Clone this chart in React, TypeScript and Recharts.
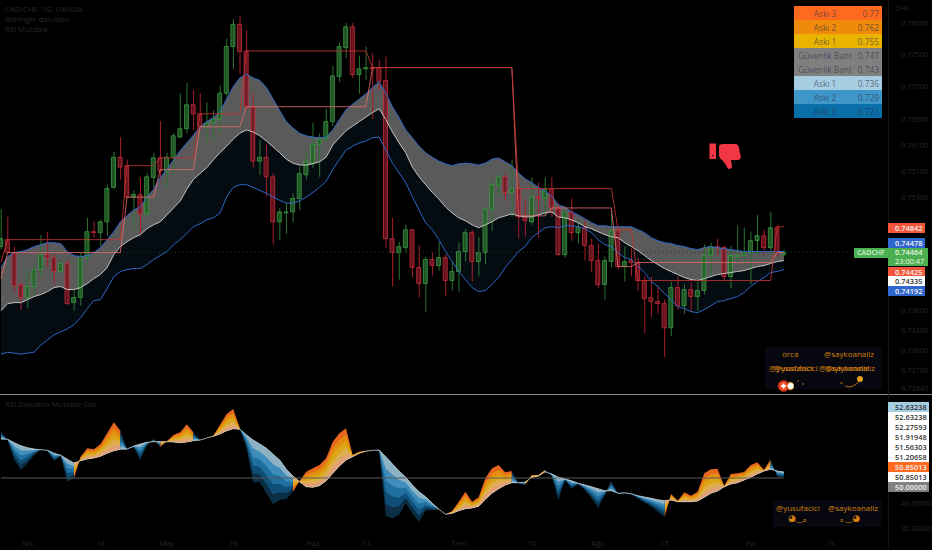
import React from "react";
import { ComposedChart, Bar, Area, Line, XAxis, YAxis, Cell, ReferenceLine } from "recharts";

const opens = [0.7455,0.74655,0.7446,0.7398,0.73785,0.7395,0.74205,0.7443,0.74385,0.74175,0.74295,0.7371,0.73785,0.74385,0.74775,0.7476,0.74925,0.7545,0.7591,0.7578,0.753,0.7534,0.75045,0.756,0.759,0.7569,0.7591,0.7622,0.7635,0.7672,0.7658,0.7638,0.7644,0.765,0.769,0.7763,0.7798,0.7756,0.7669,0.7585,0.7591,0.7561,0.74925,0.7506,0.75075,0.7528,0.7564,0.7582,0.761,0.7619,0.7646,0.7716,0.7761,0.7794,0.7719,0.7728,0.773,0.773,0.771,0.7467,0.7446,0.74535,0.74805,0.74235,0.73995,0.74355,0.74265,0.74385,0.7404,0.74175,0.74475,0.7476,0.74325,0.7446,0.75105,0.7548,0.7561,0.7537,0.7543,0.75,0.74925,0.753,0.7528,0.7542,0.75135,0.7443,0.75075,0.7476,0.74835,0.74565,0.7434,0.7398,0.74325,0.7479,0.7425,0.7434,0.7431,0.7404,0.73785,0.73725,0.73695,0.73335,0.73935,0.73665,0.73905,0.738,0.7389,0.74415,0.7455,0.74535,0.741,0.744,0.74415,0.7446,0.7464,0.74715,0.74535,0.74835,0.7443];
const closes = [0.7467,0.7446,0.73965,0.73785,0.7395,0.74205,0.7443,0.74385,0.74175,0.74295,0.73695,0.73785,0.744,0.74775,0.7476,0.74925,0.7543,0.7591,0.7576,0.753,0.7534,0.75045,0.7561,0.759,0.757,0.7591,0.7624,0.7635,0.7672,0.7658,0.7638,0.7644,0.765,0.769,0.7763,0.7798,0.7755,0.7669,0.7585,0.7591,0.7561,0.74925,0.75075,0.75075,0.7528,0.7566,0.7585,0.7611,0.7619,0.7646,0.7717,0.7763,0.7794,0.7719,0.7728,0.773,0.7728,0.7708,0.7467,0.7446,0.7455,0.74805,0.74235,0.73995,0.74355,0.74265,0.74385,0.7404,0.74175,0.74475,0.7476,0.74325,0.7446,0.7512,0.7549,0.7561,0.7537,0.7543,0.75,0.7494,0.753,0.7528,0.7542,0.75135,0.7443,0.75075,0.7476,0.74835,0.74565,0.7434,0.7398,0.7434,0.7479,0.7425,0.74325,0.7431,0.7404,0.7377,0.73725,0.73695,0.73335,0.73935,0.73665,0.73905,0.738,0.7389,0.74415,0.7455,0.74535,0.741,0.74415,0.74415,0.7446,0.7464,0.74715,0.74535,0.74835,0.7446,0.74464];
const highs = [0.7512,0.75,0.7455,0.7401,0.7419,0.7428,0.7473,0.74775,0.7443,0.74355,0.7434,0.73905,0.7446,0.74985,0.74925,0.74955,0.7549,0.7599,0.7622,0.7587,0.754,0.756,0.7567,0.7598,0.7647,0.7598,0.7628,0.769,0.7706,0.7695,0.769,0.7676,0.7663,0.7702,0.7775,0.7806,0.7812,0.7789,0.769,0.7618,0.7611,0.7567,0.75135,0.7521,0.7536,0.7576,0.7599,0.7644,0.7628,0.7666,0.7733,0.7769,0.78,0.78,0.7749,0.7763,0.7753,0.7742,0.7747,0.74985,0.74625,0.7488,0.74805,0.74565,0.744,0.7446,0.74625,0.7443,0.74325,0.7461,0.7482,0.74805,0.747,0.75135,0.7555,0.7567,0.7566,0.7587,0.7552,0.7527,0.756,0.7552,0.756,0.756,0.7521,0.75105,0.7528,0.74955,0.74955,0.7467,0.74595,0.744,0.75105,0.7485,0.7455,0.7452,0.74385,0.741,0.741,0.7395,0.73755,0.74025,0.741,0.7398,0.7401,0.74025,0.7458,0.7461,0.7467,0.74565,0.74565,0.74865,0.74835,0.74775,0.7503,0.74805,0.75075,0.7488,0.74505];
const lows = [0.74505,0.7446,0.7386,0.73605,0.73635,0.7383,0.741,0.7425,0.7398,0.7413,0.7368,0.7359,0.73665,0.7428,0.74685,0.7455,0.74715,0.7542,0.7557,0.753,0.74805,0.7473,0.74985,0.7545,0.7557,0.7545,0.7564,0.7621,0.7628,0.7633,0.7633,0.7613,0.7616,0.7628,0.7684,0.7728,0.772,0.7664,0.7575,0.7564,0.7531,0.7458,0.74655,0.74745,0.74925,0.75105,0.7557,0.7575,0.7561,0.7615,0.7639,0.7708,0.7745,0.7714,0.7689,0.771,0.765,0.7695,0.74535,0.7395,0.74055,0.7446,0.74085,0.73785,0.73575,0.74115,0.7419,0.738,0.7389,0.73875,0.74325,0.74025,0.741,0.7428,0.7479,0.753,0.7525,0.75,0.7467,0.747,0.7488,0.74685,0.75015,0.75,0.74415,0.74385,0.7464,0.74595,0.7434,0.7416,0.7392,0.73755,0.74235,0.74205,0.74025,0.741,0.7389,0.7326,0.735,0.73545,0.72905,0.73215,0.73605,0.73545,0.73575,0.7359,0.7383,0.74085,0.74415,0.7404,0.7392,0.74295,0.7431,0.7398,0.7443,0.7443,0.7446,0.744,0.744];

const bandUpper = [0.74235,0.744,0.7446,0.74475,0.74505,0.7455,0.7458,0.7461,0.7461,0.74595,0.74475,0.74415,0.744,0.74415,0.7446,0.74535,0.74655,0.74775,0.74925,0.75015,0.75105,0.7515,0.753,0.7542,0.756,0.7572,0.7587,0.7601,0.7613,0.7625,0.7638,0.7646,0.7652,0.7661,0.7681,0.77,0.7714,0.772,0.7714,0.771,0.7699,0.7681,0.7663,0.7646,0.7636,0.7628,0.7624,0.7622,0.7621,0.7622,0.7633,0.7649,0.7664,0.7673,0.7681,0.7689,0.7699,0.7708,0.769,0.7669,0.7652,0.7633,0.7621,0.7608,0.7598,0.7591,0.7585,0.7581,0.7578,0.7581,0.7582,0.7581,0.7579,0.7582,0.7588,0.759,0.7584,0.7578,0.7567,0.7558,0.7552,0.7545,0.7539,0.7532,0.7518,0.7515,0.75075,0.7503,0.7497,0.7491,0.74865,0.74865,0.7485,0.7485,0.7485,0.7485,0.74805,0.7476,0.74685,0.7464,0.7461,0.74595,0.74565,0.7455,0.7452,0.74505,0.74535,0.7455,0.74535,0.7452,0.74505,0.7449,0.74475,0.74475,0.74475,0.74475,0.74475,0.74475,0.74475];
const bandMiddle = [0.7359,0.73695,0.7371,0.7371,0.73755,0.738,0.7383,0.73875,0.73935,0.7395,0.73905,0.73905,0.73935,0.73995,0.7407,0.7413,0.74235,0.7443,0.7455,0.74625,0.74685,0.7473,0.7482,0.7488,0.74925,0.7503,0.75135,0.7524,0.7542,0.7557,0.7566,0.7575,0.7587,0.7598,0.7608,0.7619,0.7628,0.7633,0.763,0.7624,0.7616,0.7607,0.7598,0.7588,0.7582,0.7579,0.7579,0.7581,0.7584,0.7591,0.761,0.7621,0.7632,0.7639,0.7646,0.7653,0.766,0.7666,0.7649,0.763,0.7613,0.7598,0.7576,0.7561,0.7549,0.7537,0.7527,0.7515,0.7506,0.74985,0.7494,0.7488,0.74835,0.7488,0.74925,0.74985,0.75015,0.75045,0.75015,0.75,0.75,0.7503,0.7506,0.75075,0.75,0.74985,0.74955,0.7491,0.7485,0.7482,0.74775,0.7473,0.747,0.74685,0.7461,0.7455,0.7449,0.74415,0.7434,0.7428,0.7422,0.74175,0.7413,0.74085,0.74055,0.7404,0.7407,0.741,0.7413,0.74145,0.7416,0.74175,0.7419,0.7422,0.7425,0.74265,0.74295,0.74325,0.7434];
const bandLower = [0.72945,0.72975,0.7296,0.72945,0.7296,0.72975,0.7308,0.73155,0.7323,0.73275,0.7332,0.7338,0.73485,0.7362,0.7374,0.73755,0.7392,0.741,0.74175,0.74205,0.7422,0.7422,0.7428,0.74355,0.74415,0.74475,0.7458,0.74655,0.74745,0.7485,0.74895,0.74955,0.74985,0.7506,0.753,0.7545,0.7549,0.7549,0.7545,0.754,0.7536,0.753,0.7525,0.7521,0.7521,0.7524,0.753,0.7537,0.7545,0.7554,0.7572,0.7587,0.7602,0.7608,0.7613,0.7616,0.7621,0.7622,0.7602,0.7582,0.7567,0.7552,0.7531,0.75105,0.7491,0.74805,0.74655,0.74475,0.74325,0.74175,0.74055,0.73935,0.73875,0.7389,0.7398,0.74085,0.74235,0.74355,0.74475,0.7455,0.74685,0.7476,0.74835,0.7485,0.74835,0.74865,0.74865,0.7485,0.7482,0.7476,0.74655,0.7458,0.7455,0.7446,0.74385,0.74355,0.7425,0.7416,0.74025,0.7395,0.73845,0.73755,0.7365,0.7362,0.73575,0.7356,0.73605,0.73665,0.73725,0.7374,0.7377,0.738,0.7386,0.7395,0.74025,0.74085,0.7416,0.74175,0.74205];

const redLevel = [0.7431,0.74655,0.74655,0.74655,0.74655,0.74655,0.74655,0.74655,0.74655,0.74655,0.74655,0.74655,0.74655,0.74655,0.74655,0.74655,0.74655,0.74655,0.74655,0.7578,0.7578,0.7578,0.7578,0.7578,0.759,0.759,0.759,0.759,0.759,0.759,0.7658,0.7658,0.7658,0.7658,0.7658,0.7658,0.7658,0.7756,0.7756,0.7756,0.7756,0.7756,0.7756,0.7756,0.7756,0.7756,0.7756,0.7756,0.7756,0.7756,0.7756,0.7756,0.7756,0.7756,0.7756,0.7756,0.773,0.773,0.773,0.773,0.773,0.773,0.773,0.773,0.773,0.773,0.773,0.773,0.773,0.773,0.773,0.773,0.773,0.773,0.773,0.773,0.773,0.773,0.7543,0.7543,0.7543,0.7543,0.7543,0.7543,0.7543,0.7543,0.7543,0.7543,0.7543,0.7543,0.7543,0.7543,0.7543,0.74805,0.74805,0.74805,0.7404,0.7404,0.7404,0.7404,0.7404,0.7404,0.7404,0.7404,0.7404,0.7404,0.7404,0.7404,0.7404,0.7404,0.7404,0.7404,0.7404,0.7404,0.7404,0.7404,0.7404,0.7485,0.7485];
const pinkLevel = [0.7407,0.7446,0.7446,0.7446,0.7446,0.7446,0.7446,0.7446,0.7446,0.7446,0.7446,0.7446,0.7446,0.7446,0.7446,0.7446,0.7446,0.7446,0.7446,0.753,0.753,0.753,0.753,0.753,0.7572,0.7572,0.7572,0.7572,0.7572,0.7572,0.7638,0.7638,0.7638,0.7638,0.7638,0.7638,0.7638,0.7669,0.7669,0.7669,0.7669,0.7669,0.7669,0.7669,0.7669,0.7669,0.7669,0.7669,0.7669,0.7669,0.7669,0.7669,0.7669,0.7669,0.7669,0.7669,0.773,0.773,0.773,0.773,0.773,0.773,0.773,0.773,0.773,0.773,0.773,0.773,0.773,0.773,0.773,0.773,0.773,0.773,0.773,0.773,0.773,0.773,0.75015,0.75015,0.75015,0.75015,0.75015,0.75135,0.75135,0.75135,0.75135,0.75135,0.75135,0.75135,0.75135,0.75135,0.75135,0.7425,0.7425,0.7425,0.7431,0.7431,0.7431,0.7431,0.7431,0.7431,0.7431,0.7431,0.7431,0.7431,0.7431,0.7431,0.7431,0.7431,0.7431,0.7431,0.7431,0.7431,0.7431,0.7431,0.7431,0.7446,0.7446];

const rsiBase = [65.6,65.5,64.1,62.9,62.1,61.6,61.3,61.1,59.9,59.1,57.5,56.0,56.9,57.6,58.0,58.7,59.9,60.9,61.5,61.6,62.8,63.6,64.3,64.5,64.5,64.5,64.4,64.1,64.4,64.9,65.2,66.0,66.7,67.6,68.9,69.7,69.5,67.2,65.2,63.6,61.9,59.5,57.2,53.5,50.8,48.5,46.5,46.3,46.9,48.9,51.9,54.8,57.2,58.5,59.9,60.7,61.1,61.2,58.5,55.6,52.8,50.3,47.2,44.5,42.5,39.9,37.5,35.5,35.9,36.9,37.7,38.0,38.7,41.5,43.9,45.7,47.2,48.1,48.1,48.4,50.3,50.8,52.5,51.6,50.3,49.6,48.9,47.9,47.2,46.5,45.7,44.9,44.9,43.9,44.1,43.7,42.9,42.4,41.9,41.3,40.9,41.2,40.5,40.5,40.5,40.8,42.3,43.9,44.8,46.5,47.6,48.1,49.2,50.3,51.6,52.8,53.5,52.8,52.4];
const rsiTop = [68.5,65.2,57.2,53.2,55.9,59.2,61.6,60.8,56.8,58.8,48.5,49.9,58.5,61.9,61.5,63.6,67.9,72.3,68.9,61.5,62.3,57.2,63.2,65.5,62.5,64.7,67.2,68.3,71.5,68.3,65.1,65.9,66.9,71.2,75.6,77.6,69.9,61.9,48.3,48.3,43.9,39.5,41.2,41.5,44.5,48.8,52.5,53.9,55.2,57.9,64.5,67.9,69.9,59.2,60.5,60.8,61.2,60.9,34.8,33.9,35.2,39.9,35.9,32.5,36.9,37.2,37.6,35.4,36.8,40.5,44.5,40.5,42.3,49.9,53.9,55.2,52.3,52.8,47.9,47.2,51.2,51.2,53.2,50.8,41.2,49.2,45.6,47.6,45.2,41.9,38.1,43.2,48.8,43.6,43.9,43.5,41.9,40.1,38.5,36.5,34.3,43.6,40.9,44.3,42.9,44.5,51.9,53.5,53.7,46.8,51.6,51.9,52.4,55.2,56.3,53.2,57.5,50.5,50.3];
const rsiMid = rsiBase.map(() => 50);

const upColors = ["#e0a078", "#dfae4c", "#dba514", "#e48d0e", "#e6651f"];
const downColors = ["#8db2c4", "#3f8dba", "#1f6f9f", "#0f4f77", "#0b2e44"];

const priceTicks = [0.7244, 0.727, 0.73, 0.733, 0.736, 0.753, 0.757, 0.761, 0.765, 0.77, 0.775, 0.78];
const rsiTicks = [30, 40];
const xTickPositions = [4, 15, 25, 35, 47, 55, 69, 80, 90, 100, 113, 125];
const xTickLabels = ["Nis", "18", "May", "16", "Haz", "13", "Tem", "18", "Ağu", "15", "Eyl", "19"];

const levelNames = ["Askı 3", "Askı 2", "Askı 1", "Güvenlik Bant", "Güvenlik Bant", "Askı 1", "Askı 2", "Askı 3"];
const levelValues = ["0.77", "0.762", "0.755", "0.747", "0.743", "0.736", "0.729", "0.721"];
const levelColors = ["#ff6a1f", "#ef8a0a", "#e8b400", "#808080", "#808080", "#a6cee3", "#3f96c8", "#0a6fa8"];

const priceBadges = ["0.74842", "0.74478", "0.74425", "0.74335", "0.74192"];
const rsiBadges = ["52.63238", "52.63238", "52.27593", "51.91948", "51.56303", "51.20658", "50.85013", "50.85013", "50.00000"];
const rsiBadgeColors = ["#a6cee3", "#ffffff", "#ffffff", "#ffffff", "#ffffff", "#ffffff", "#ff6a1f", "#ffffff", "#808080"];

const GREEN = "#3f9a45";
const GREEN_FILL = "#256229";
const GREEN_WICK = "#2a7430";
const RED = "#cc2d3b";
const RED_FILL = "#6e1722";
const RED_WICK = "#a81e2b";
const FONT = "'Open Sans', 'Noto Sans', sans-serif";
const DIM = "#25272c";
const SIZE = 7.4;

const rows = opens.map((o, i) => ({
  i,
  wick: [lows[i], highs[i]],
  body: [Math.min(o, closes[i]), Math.max(o, closes[i])],
  up: closes[i] >= o,
  grayBand: [bandMiddle[i], bandUpper[i]],
  darkBand: [bandLower[i], bandMiddle[i]],
  upper: bandUpper[i],
  middle: bandMiddle[i],
  lower: bandLower[i],
  red: redLevel[i],
  pink: pinkLevel[i],
}));

const isUp = (j: number) => j < rsiTop.length && rsiTop[j] > rsiBase[j];
const isDown = (j: number) => j < rsiTop.length && rsiTop[j] <= rsiBase[j];
const rsiRows = rsiBase.map((b, i) => {
  const row: any = { i, base: b, mid: rsiMid[i] };
  for (let k = 1; k <= 5; k++) {
    const level = b + ((rsiTop[i] - b) * k) / 5;
    row["u" + k] = isUp(i) || isUp(i + 1) ? [b, level] : null;
    row["d" + k] = isDown(i) || isDown(i + 1) ? [b, level] : null;
  }
  return row;
});

const xDomain: [number, number] = [-0.151, 133.69];
const tickStyle = { fill: DIM, fontSize: SIZE, fontFamily: FONT };

const abs = (left: number, top: number, width: number, height: number, extra: any = {}): any => ({
  position: "absolute", left, top, width, height, boxSizing: "border-box", ...extra,
});

function Badge({ top, bg, color, text, h = 10 }: any) {
  return (
    <div style={abs(888, top, 37, h, { background: bg, color, fontSize: SIZE, lineHeight: h + "px", fontWeight: 600, paddingLeft: 7, fontFamily: FONT })}>
      {text}
    </div>
  );
}

export default function App() {
  return (
    <div style={{ position: "fixed", left: 0, top: 0, width: 932, height: 550, background: "#000", overflow: "hidden" }}>
      <div style={abs(0, 0, 932, 395)}>
        <ComposedChart width={932} height={395} data={rows} margin={{ top: 0, right: 0, bottom: 0, left: 0 }}>
          <XAxis xAxisId="a" type="number" dataKey="i" domain={xDomain} allowDataOverflow hide />
          <XAxis xAxisId="b" type="number" dataKey="i" domain={xDomain} allowDataOverflow hide />
          <YAxis
            orientation="right" width={44} scale="log" domain={[0.72345, 0.78364]} allowDataOverflow
            ticks={priceTicks} interval={0} tickLine={false} axisLine={false} tick={tickStyle}
            tickFormatter={(v: number) => v.toFixed(5)} tickMargin={7}
          />
          <Area xAxisId="a" dataKey="darkBand" type="linear" fill="#040c12" fillOpacity={1} stroke="none" isAnimationActive={false} dot={false} activeDot={false} />
          <Area xAxisId="a" dataKey="grayBand" type="linear" fill="#5a5a5a" fillOpacity={1} stroke="none" isAnimationActive={false} dot={false} activeDot={false} />
          <ReferenceLine xAxisId="a" y={0.74464} stroke="#1f3a22" strokeDasharray="1 3" />
          <Bar xAxisId="a" dataKey="wick" barSize={1} isAnimationActive={false}>
            {rows.map((r) => <Cell key={r.i} fill={r.up ? GREEN_WICK : RED_WICK} />)}
          </Bar>
          <Bar xAxisId="b" dataKey="body" barSize={4} isAnimationActive={false} minPointSize={1}>
            {rows.map((r) => <Cell key={r.i} fill={r.up ? GREEN_FILL : RED_FILL} fillOpacity={0.8} stroke={r.up ? GREEN : RED} strokeWidth={0.8} />)}
          </Bar>
          <Line xAxisId="a" dataKey="upper" type="linear" stroke="#2f66c8" strokeWidth={1} dot={false} activeDot={false} isAnimationActive={false} />
          <Line xAxisId="a" dataKey="lower" type="linear" stroke="#2f66c8" strokeWidth={1} dot={false} activeDot={false} isAnimationActive={false} />
          <Line xAxisId="a" dataKey="middle" type="linear" stroke="#c4c4c4" strokeWidth={1} dot={false} activeDot={false} isAnimationActive={false} />
          <Line xAxisId="a" dataKey="pink" type="linear" stroke="#e06a6a" strokeOpacity={0.85} strokeWidth={1} dot={false} activeDot={false} isAnimationActive={false} />
          <Line xAxisId="a" dataKey="red" type="linear" stroke="#c0342f" strokeOpacity={0.85} strokeWidth={1} dot={false} activeDot={false} isAnimationActive={false} />
        </ComposedChart>
      </div>

      <div style={abs(0, 395, 932, 155)}>
        <ComposedChart width={932} height={155} data={rsiRows} margin={{ top: 0, right: 0, bottom: 0, left: 0 }}>
          <XAxis
            type="number" dataKey="i" domain={xDomain} allowDataOverflow height={20} ticks={xTickPositions} interval={0}
            tickLine={false} axisLine={false} tick={tickStyle} tickMargin={5}
            tickFormatter={(v: number) => xTickLabels[xTickPositions.indexOf(v)]}
          />
          <YAxis
            orientation="right" width={44} domain={[29.2, 83.2]} allowDataOverflow ticks={rsiTicks} interval={0}
            tickLine={false} axisLine={false} tick={tickStyle} tickFormatter={(v: number) => v.toFixed(5)} tickMargin={7}
          />
          {[5, 4, 3, 2, 1].map((k) => (
            <Area key={"u" + k} dataKey={"u" + k} type="linear" fill={upColors[k - 1]} fillOpacity={1} stroke="none" isAnimationActive={false} dot={false} activeDot={false} />
          ))}
          {[5, 4, 3, 2, 1].map((k) => (
            <Area key={"d" + k} dataKey={"d" + k} type="linear" fill={downColors[k - 1]} fillOpacity={1} stroke="none" isAnimationActive={false} dot={false} activeDot={false} />
          ))}
          <Line dataKey="mid" type="linear" stroke="#5a5a5a" strokeWidth={1} dot={false} activeDot={false} isAnimationActive={false} />
          <Line dataKey="base" type="linear" stroke="#c8c8c8" strokeWidth={0.7} dot={false} activeDot={false} isAnimationActive={false} />
        </ComposedChart>
      </div>

      {/* pane separators */}
      <div style={abs(0, 394, 932, 1, { background: "#8a8a8a" })} />
      <div style={abs(888, 0, 1, 550, { background: "#131313" })} />

      {/* legends */}
      <div style={{ position: "absolute", left: 5, top: 4, color: DIM, fontFamily: FONT, fontSize: 7.7, lineHeight: "10px", whiteSpace: "nowrap" }}>
        <div>CAD/CHF, 1G, OANDA</div>
        <div>Bollinger delusion</div>
        <div>RSI Mutable</div>
      </div>
      <div style={{ position: "absolute", left: 5, top: 399, color: DIM, fontFamily: FONT, fontSize: 7.7, lineHeight: "10px", whiteSpace: "nowrap" }}>
        RSI Delusion Mutable Sub
      </div>
      <div style={{ position: "absolute", left: 895, top: 3, color: DIM, fontFamily: FONT, fontSize: SIZE, lineHeight: "10px" }}>CHF</div>

      {/* level table */}
      <div style={abs(794, 6, 88, 112, { fontFamily: FONT, fontSize: 8.3 })}>
        {levelNames.map((n, idx) => (
          <div key={idx} style={{ height: 14, background: levelColors[idx], display: "flex", alignItems: "center", color: "rgba(45,45,70,0.65)" }}>
            <div style={{ width: 62, textAlign: "center", whiteSpace: "nowrap" }}>{n}</div>
            <div style={{ width: 23, textAlign: "right" }}>{levelValues[idx]}</div>
          </div>
        ))}
      </div>

      {/* thumb down */}
      <svg style={abs(700, 135, 50, 40)} viewBox="700 135 50 40">
        <path d="M709.5 143.5h6.5v15.5h-6.5z" fill="#f23645" />
        <rect x="712.2" y="155" width="1.2" height="1.2" fill="#000" />
        <path d="M719 147 Q719 144 723 144 L735 144 Q738.5 144 739 148 L740.8 157 Q741 160 737 160 L731 160 L732 166 Q732 169 729 169 Q727.5 169 726 165 L722 160 Q719 158 719 155 Z" fill="#f23645" />
      </svg>

      {/* price badges */}
      <Badge top={223} bg="#f4563a" color="#f2f2f2" text={priceBadges[0]} />
      <Badge top={238} bg="#2f66d0" color="#f2f2f2" text={priceBadges[1]} />
      <div style={abs(854, 248, 34, 10, { background: "#4caf50", color: "#d8efd8", fontSize: 7, lineHeight: "10px", textAlign: "center", fontFamily: FONT, fontWeight: 600 })}>CADCHF</div>
      <div style={abs(888, 248, 40, 18, { background: "#4caf50", color: "#eaf6ea", fontSize: SIZE, lineHeight: "9px", paddingLeft: 7, fontFamily: FONT, fontWeight: 600 })}>
        <div>0.74464</div>
        <div style={{ fontWeight: 400 }}>23:00:47</div>
      </div>
      <Badge top={267} bg="#f4563a" color="#f2f2f2" text={priceBadges[2]} />
      <Badge top={276} bg="#ffffff" color="#333" text={priceBadges[3]} />
      <Badge top={286} bg="#2f66d0" color="#f2f2f2" text={priceBadges[4]} />

      {/* rsi badges */}
      {rsiBadges.map((t, idx) => (
        <div key={idx} style={abs(888, 402 + idx * 10, 41, 10, { background: rsiBadgeColors[idx], color: idx === 6 || idx === 8 ? "#f0f0f0" : "#333", fontSize: SIZE, lineHeight: "10px", paddingLeft: 7, fontFamily: FONT, fontWeight: 600 })}>
          {t}
        </div>
      ))}

      {/* signature boxes */}
      <div style={abs(765, 347, 117, 42, { background: "#07070f", color: "#d5800f", fontFamily: FONT, fontSize: 8 })}>
        <div style={{ position: "absolute", left: 17, top: 1 }}>orca</div>
        <div style={{ position: "absolute", left: 59, top: 1 }}>@saykoanaliz</div>
        <div style={{ position: "absolute", left: 4, top: 15, whiteSpace: "nowrap" }}>@yusufacici</div>
        <div style={{ position: "absolute", left: 9, top: 15, whiteSpace: "nowrap" }}>@yusufacici</div>
        <div style={{ position: "absolute", left: 54, top: 15, whiteSpace: "nowrap" }}>@saykoanaliz</div>
        <div style={{ position: "absolute", left: 60, top: 15, whiteSpace: "nowrap" }}>@saykoanaliz</div>
      </div>
      <svg style={abs(765, 375, 117, 19)} viewBox="765 375 117 19">
        <circle cx="790" cy="386" r="4" fill="#e8a020" />
        <circle cx="783.5" cy="386" r="5.5" fill="#e8451f" stroke="#8a1d12" />
        <path d="M781 385h5v2h-5z M782.5 383.5h2v5h-2z" fill="#fff" />
        <circle cx="790.5" cy="386" r="3" fill="#fff" />
        <circle cx="860" cy="379" r="3" fill="#e8a020" />
        <path d="M840 383h3 M845 386 q4 2 8 0 q3 -2 6 -4" stroke="#d5800f" strokeWidth="0.8" fill="none" />
        <path d="M797 381h2 M802 384h2" stroke="#d5800f" strokeWidth="0.8" />
      </svg>

      <div style={abs(773, 500, 109, 27, { background: "#07070f", color: "#d5800f", fontFamily: FONT, fontSize: 8 })}>
        <div style={{ position: "absolute", left: 3, top: 2, whiteSpace: "nowrap" }}>@yusufacici</div>
        <div style={{ position: "absolute", left: 55, top: 2, whiteSpace: "nowrap" }}>@saykoanaliz</div>
        <div style={{ position: "absolute", left: 15, top: 13, whiteSpace: "nowrap", fontFamily: "'DejaVu Sans'", fontSize: 9 }}>◕‿｡</div>
        <div style={{ position: "absolute", left: 67, top: 13, whiteSpace: "nowrap", fontFamily: "'DejaVu Sans'", fontSize: 9 }}>｡‿◕</div>
      </div>
    </div>
  );
}
